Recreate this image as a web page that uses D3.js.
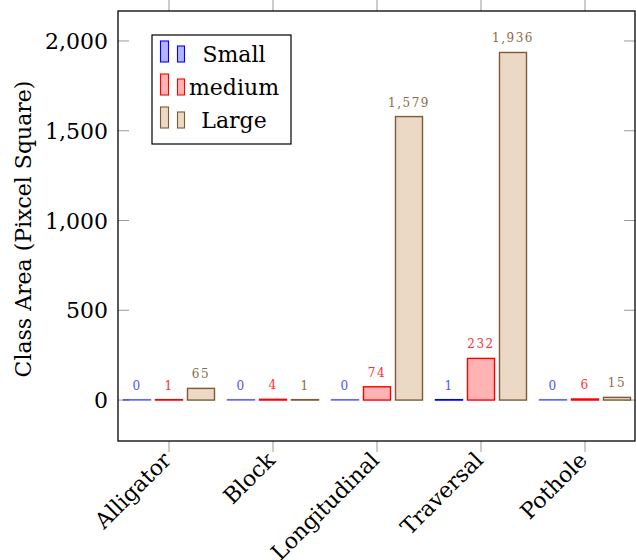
<!DOCTYPE html>
<html><head><meta charset="utf-8">
<script src="https://cdn.jsdelivr.net/npm/d3@7"></script>
<style>body{margin:0;background:#fff}svg{display:block}</style>
</head><body>
<script>
const categories = ["Alligator","Block","Longitudinal","Traversal","Pothole"];
const seriesNames = ["Small","medium","Large"];
const small = [0,0,0,1,0];
const medium = [1,4,74,232,6];
const large = [65,1,1579,1936,15];
const yTicks = [0,500,1000,1500,2000];

const seriesData = [small, medium, large];
const fills = ["#b3b3ff","#ffb3b3","#ebd9c6"];
const strokes = ["#0000ff","#ff0000","#7f5a33"];
const labelColors = ["#5050ff","#ff3030","#8b6a48"];

const W=636,H=560, L=118, R=635, T=11, B=441;
const svg = d3.select("body").append("svg").attr("width",W).attr("height",H);
const serif = "DejaVu Serif";
const fs = 22;

const x = d3.scalePoint().domain(categories).range([169,585]);
const xs = d3.scalePoint().domain(seriesNames).range([-32,32]);
const y = d3.scaleLinear().domain([-228,2167]).range([B,T]);
const bw = 27;

// ticks (gray)
const tickG = svg.append("g").attr("stroke","#9a9a9a").attr("stroke-width",1);
categories.forEach(c=>{
  tickG.append("line").attr("x1",x(c)).attr("x2",x(c)).attr("y1",B).attr("y2",B+11);
  tickG.append("line").attr("x1",x(c)).attr("x2",x(c)).attr("y1",T).attr("y2",0);
});
yTicks.forEach(v=>{
  tickG.append("line").attr("x1",L).attr("x2",L+11).attr("y1",y(v)).attr("y2",y(v));
  tickG.append("line").attr("x1",R).attr("x2",R-11).attr("y1",y(v)).attr("y2",y(v));
});

// bars
seriesData.forEach((vals,si)=>{
  const g = svg.append("g");
  vals.forEach((v,ci)=>{
    const cx = x(categories[ci]) + xs(seriesNames[si]);
    const top = y(v), h = Math.max(y(0)-top, 0.4);
    g.append("rect").attr("x",cx-bw/2).attr("y",y(0)-h).attr("width",bw).attr("height",h)
      .attr("fill",fills[si]).attr("stroke",strokes[si]).attr("stroke-width",1.4)
      .attr("stroke-opacity", v===0 ? 0.55 : 1);
    g.append("text").attr("x",cx).attr("y",top-10).attr("text-anchor","middle")
      .style("font-family",serif).attr("font-size",12).attr("letter-spacing","1.5px")
      .attr("fill",labelColors[si]).text(d3.format(",")(v));
  });
});

// axis box
svg.append("rect").attr("x",L).attr("y",T).attr("width",R-L).attr("height",B-T)
  .attr("fill","none").attr("stroke","#000").attr("stroke-width",1.3);

// y tick labels
yTicks.forEach(v=>{
  svg.append("text").attr("x",108).attr("y",y(v)+8).attr("text-anchor","end")
    .style("font-family",serif).attr("font-size",fs).text(d3.format(",")(v));
});
// x tick labels
categories.forEach(c=>{
  svg.append("text").attr("transform",`translate(${x(c)-2},${B+15}) rotate(-45)`)
    .attr("text-anchor","end").attr("dy","0.35em")
    .style("font-family",serif).attr("font-size",fs).text(c);
});
// y title
svg.append("text").attr("transform",`translate(31,229) rotate(-90)`)
  .attr("text-anchor","middle").style("font-family",serif).attr("font-size",fs)
  .text("Class Area (Pixcel Square)");

// legend
const lg = svg.append("g");
lg.append("rect").attr("x",152).attr("y",35).attr("width",139).attr("height",109)
  .attr("fill","#fff").attr("stroke","#000").attr("stroke-width",1.2);
seriesNames.forEach((s,i)=>{
  const base = 62 + i*33;
  lg.append("rect").attr("x",160.5).attr("y",base-21).attr("width",8).attr("height",21)
    .attr("fill",fills[i]).attr("stroke",strokes[i]).attr("stroke-width",1.1);
  lg.append("rect").attr("x",177.5).attr("y",base-16).attr("width",7).attr("height",16)
    .attr("fill",fills[i]).attr("stroke",strokes[i]).attr("stroke-width",1.1);
  lg.append("text").attr("x",234).attr("y",base).attr("text-anchor","middle")
    .style("font-family",serif).attr("font-size",fs).text(s);
});
</script>
</body></html>
